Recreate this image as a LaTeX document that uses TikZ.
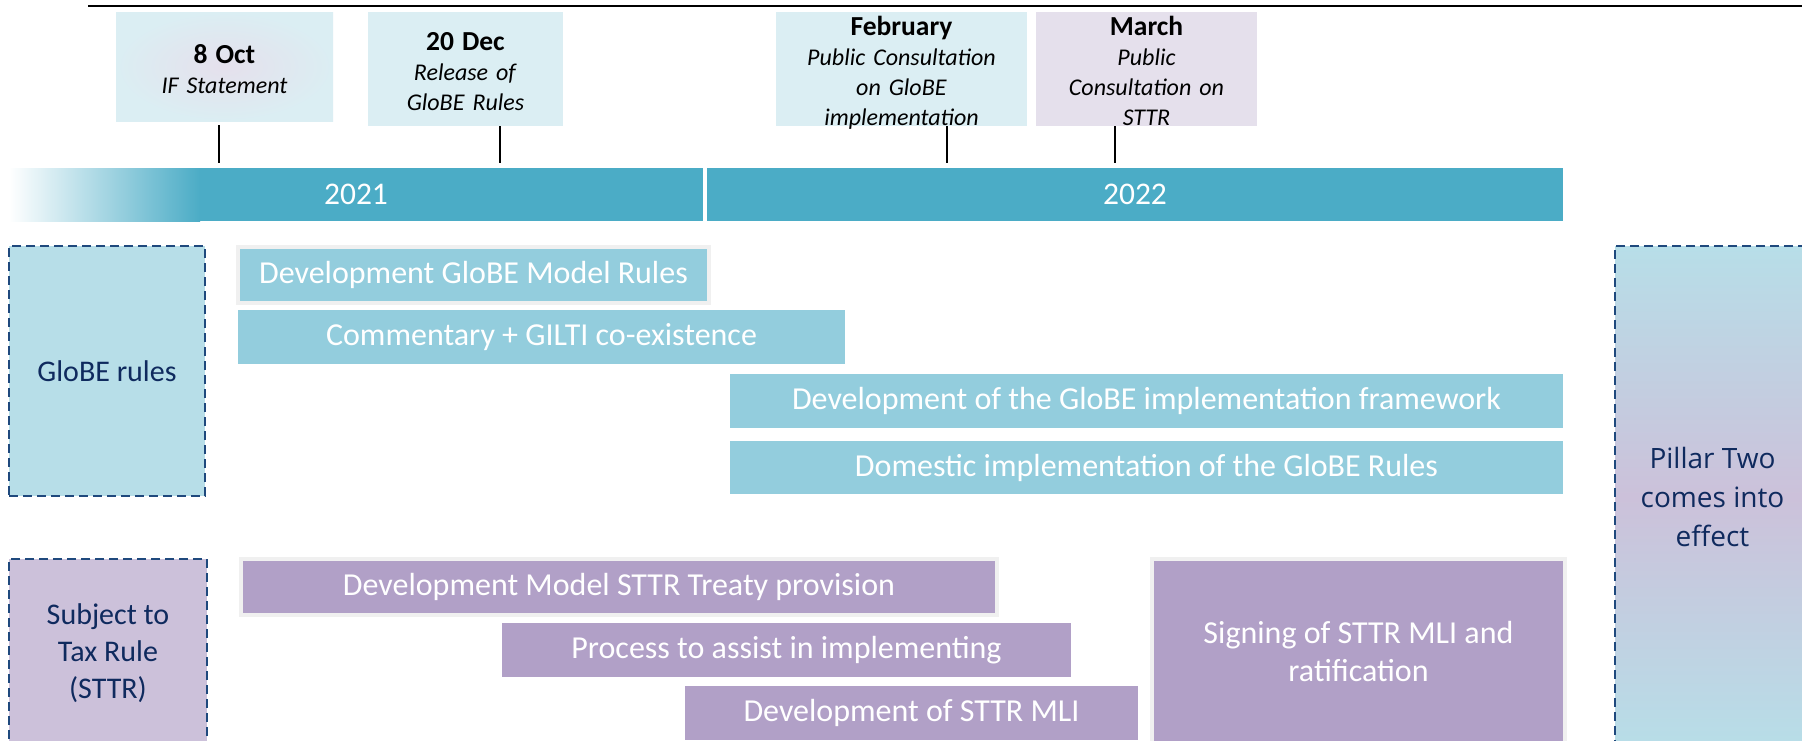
\documentclass[tikz,border=0pt]{standalone}
\usepackage{fontspec}
\setmainfont{Carlito}
\newfontfamily\opensansfam{Open Sans}
\definecolor{yearbar}{HTML}{4BACC6}
\definecolor{bluebar}{HTML}{93CDDD}
\definecolor{purplebar}{HTML}{B1A0C7}
\definecolor{bluelabel}{HTML}{B7DEE8}
\definecolor{purplelabel}{HTML}{CCC1DA}
\definecolor{msblue}{HTML}{DBEEF3}
\definecolor{mspurple}{HTML}{E5E0EC}
\definecolor{dashnavy}{HTML}{1F497D}
\definecolor{navytext}{HTML}{0F2A5E}
\definecolor{framegray}{HTML}{F0F0F0}
\newcommand\taskfont{\fontsize{32}{38}\selectfont}
\newcommand\labelfont{\fontsize{30}{37}\selectfont}
\newcommand\msfont{\fontsize{24}{30}\selectfont}
\newcommand\mstitle{\fontsize{27.5}{30}\selectfont\bfseries}
\newcommand\yearfont{\fontsize{31.5}{36}\selectfont}
\newcommand\pillarfont{\opensansfam\fontsize{28}{39}\selectfont}
\tikzset{
  task/.style={rectangle, inner sep=0pt, text=white, font=\taskfont, align=center},
  framed/.style={draw=framegray, line width=4pt},
  lbl/.style={rectangle, draw=dashnavy, line width=2.5pt, dash pattern=on 9pt off 5pt,
    text=navytext, font=\labelfont, align=center, inner sep=0pt},
  msbox/.style={rectangle, inner sep=0pt},
  mstext/.style={font=\msfont, text width=240pt, align=center, anchor=base, inner sep=0pt},
  tick/.style={line width=1.3pt, shorten >=5pt},
  year/.style={rectangle, fill=yearbar, inner sep=0pt, text=white, font=\yearfont},
}
\begin{document}
\begin{tikzpicture}[x=1pt,y=-1pt]
\useasboundingbox (0,0) rectangle (1802,740);
\fill[white] (0,0) rectangle (1802,740);
\draw[line width=2.5pt] (88,6) -- (1802,6);

% milestone boxes
\node[msbox, inner color=mspurple, outer color=msblue, minimum width=217pt, minimum height=109pt] (oct) at (224.5,66.5) {};
\node[msbox, fill=msblue, minimum width=195pt, minimum height=114pt] (dec) at (465.5,69) {};
\node[msbox, fill=msblue, minimum width=251pt, minimum height=114pt] (feb) at (901.5,69) {};
\node[msbox, fill=mspurple, minimum width=221pt, minimum height=114pt] (mar) at (1146.5,69) {};

\node[mstext] (octtxt) at (224.5,63) {{\mstitle 8 Oct}\\\textit{IF Statement}};
\node[mstext] (dectxt) at (465.5,50) {{\mstitle 20 Dec}\\\textit{Release of}\\\textit{GloBE Rules}};
\node[mstext] (febtxt) at (901.5,35) {{\mstitle February}\\\textit{Public Consultation}\\\textit{on GloBE}\\\textit{implementation}};
\node[mstext] (martxt) at (1146.5,35) {{\mstitle March}\\\textit{Public}\\\textit{Consultation on}\\\textit{STTR}};

% year bars
\node[year, minimum width=694pt, minimum height=53pt] (bar21) at (356,194.5) {2021};
\shade[left color=white, right color=yearbar] (9,168) rectangle (200,221);
\node[year, minimum width=856pt, minimum height=53pt] (bar22) at (1135,194.5) {2022};

% ticks
\coordinate (t1) at (219,0);
\coordinate (t2) at (500,0);
\coordinate (t3) at (947,0);
\coordinate (t4) at (1115,0);
\draw[tick, shorten <=4pt] (oct.south -| t1) -- (bar21.north -| t1);
\draw[tick] (dec.south -| t2) -- (bar21.north -| t2);
\draw[tick] (feb.south -| t3) -- (bar22.north -| t3);
\draw[tick] (mar.south -| t4) -- (bar22.north -| t4);

% left labels
\node[lbl, fill=bluelabel, minimum width=196pt, minimum height=250pt] (globelbl) at (107,371) {GloBE rules};
\node[lbl, fill=purplelabel, minimum width=198pt, minimum height=189pt] (sttrlbl) at (108,653.5) {Subject to\\Tax Rule\\(STTR)};

% GloBE tasks
\node[task, framed, fill=bluebar, minimum width=471pt, minimum height=56pt] (devglobe) at (473.5,275) {Development GloBE Model Rules};
\node[task, fill=bluebar, minimum width=607pt, minimum height=54pt] (comm) at (541.5,337) {Commentary + GILTI co-existence};
\node[task, fill=bluebar, minimum width=833pt, minimum height=54pt] (framework) at (1146.5,401) {Development of the GloBE implementation framework};
\node[task, fill=bluebar, minimum width=833pt, minimum height=53pt] (domestic) at (1146.5,467.5) {Domestic implementation of the GloBE Rules};

% STTR tasks
\node[task, framed, fill=purplebar, minimum width=756pt, minimum height=56pt] (devsttr) at (619,587) {Development Model STTR Treaty provision};
\node[task, fill=purplebar, minimum width=569pt, minimum height=54pt] (process) at (786.5,650) {Process to assist in implementing};
\node[task, fill=purplebar, minimum width=453pt, minimum height=54pt] (devmli) at (911.5,713) {Development of STTR MLI};
\node[task, framed, fill=purplebar, minimum width=413pt, minimum height=184pt] (signing) at (1358.5,651) {Signing of STTR MLI and\\ratification};

% Pillar Two
\node[lbl, top color=bluelabel, bottom color=bluelabel, middle color=purplelabel, font=\pillarfont, minimum width=195pt, minimum height=502pt] (pillar) at (1712.5,497) {Pillar Two\\comes into\\effect};
\end{tikzpicture}
\end{document}
